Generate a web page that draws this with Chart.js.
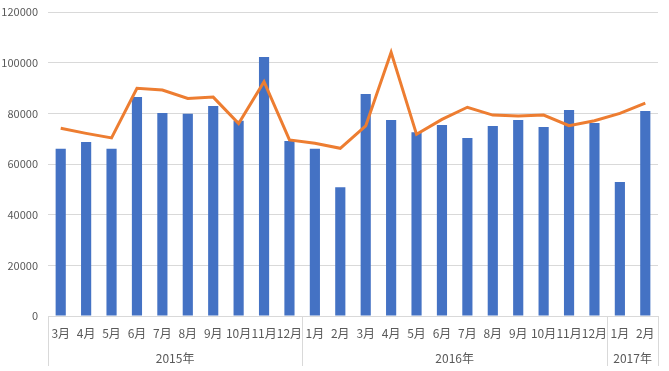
<!DOCTYPE html>
<html>
<head>
<meta charset="utf-8">
<script src="https://cdn.jsdelivr.net/npm/chart.js@4"></script>
<style>
  html, body { margin: 0; padding: 0; background: #fff; }
  #wrap { width: 669px; height: 371px; }
</style>
</head>
<body>
<div id="wrap"><canvas id="c" width="669" height="371"></canvas></div>
<script>
// 月份标签 + 年份分组
const months = ['3月','4月','5月','6月','7月','8月','9月','10月','11月','12月',
                '1月','2月','3月','4月','5月','6月','7月','8月','9月','10月','11月','12月',
                '1月','2月'];
const years = ['2015年', '2016年', '2017年'];
const yearCounts = [10, 12, 2];

// 柱形（蓝）和折线（橙）
const barValues = [66000, 68700, 66000, 86400, 80100, 79800, 82900, 77100, 102200, 69100,
                   66000, 50800, 87600, 77400, 72500, 75400, 70300, 75000, 77400, 74600, 81300, 76200,
                   52900, 80900];
const lineValues = [74100, 72100, 70300, 89900, 89200, 85900, 86400, 76000, 92500, 69500,
                    68200, 66200, 75000, 104100, 71700, 77600, 82400, 79300, 78900, 79300, 75100, 77100,
                    80000, 84000];

const FONT = '"Noto Sans CJK SC", "Noto Sans", sans-serif';

// 画年份分组线和年份文字
const groupAxis = {
  id: 'groupAxis',
  afterDraw(chart) {
    const ctx = chart.ctx;
    const x = chart.scales.x;
    const bottom = x.top;
    const step = x.getPixelForValue(1) - x.getPixelForValue(0);
    ctx.save();
    ctx.strokeStyle = '#d9d9d9';
    ctx.lineWidth = 1;
    ctx.fillStyle = '#595959';
    ctx.font = '12px ' + FONT;
    ctx.textAlign = 'center';
    ctx.textBaseline = 'middle';
    let start = 0;
    const edges = [0];
    yearCounts.forEach((n, i) => {
      const left = x.getPixelForValue(start) - step / 2;
      const right = x.getPixelForValue(start + n - 1) + step / 2;
      ctx.fillText(years[i], (left + right) / 2, bottom + 42);
      start += n;
      edges.push(start);
    });
    edges.forEach(e => {
      const px = Math.round(x.getPixelForValue(e) - step / 2) + 0.5;
      ctx.beginPath();
      ctx.moveTo(px, bottom);
      ctx.lineTo(px, bottom + 50);
      ctx.stroke();
    });
    ctx.restore();
  }
};

new Chart(document.getElementById('c'), {
  data: {
    labels: months,
    datasets: [
      {
        type: 'line',
        data: lineValues,
        borderColor: '#ED7D31',
        borderWidth: 3,
        pointRadius: 0,
        tension: 0,
        order: 1
      },
      {
        type: 'bar',
        data: barValues,
        backgroundColor: '#4472C4',
        barPercentage: 0.4,
        categoryPercentage: 1,
        order: 2
      }
    ]
  },
  options: {
    responsive: false,
    animation: false,
    layout: { padding: { top: 12, right: 11, left: 0, bottom: 0 } },
    plugins: { legend: { display: false }, tooltip: { enabled: false } },
    scales: {
      x: {
        grid: { display: false, drawTicks: false },
        border: { color: '#d9d9d9' },
        ticks: {
          color: '#595959',
          font: { family: FONT, size: 12 },
          padding: 10,
          maxRotation: 0,
          autoSkip: false
        },
        afterFit(s) { s.height = 55; }
      },
      y: {
        min: 0,
        max: 120000,
        ticks: {
          stepSize: 20000,
          color: '#595959',
          font: { family: FONT, size: 11 },
          padding: 10,
          callback: v => String(v)
        },
        grid: { color: '#d9d9d9', drawTicks: false },
        border: { display: false },
        afterFit(s) { s.width = 48; s.paddingTop = 0; s.paddingBottom = 0; }
      }
    }
  },
  plugins: [groupAxis]
});
</script>
</body>
</html>
